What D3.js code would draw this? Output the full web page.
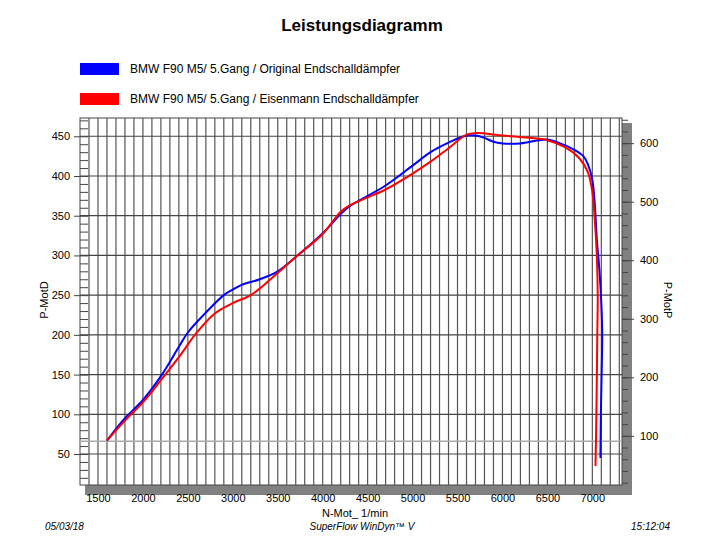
<!DOCTYPE html><html><head><meta charset="utf-8"><script src="https://cdn.jsdelivr.net/npm/d3@7"></script>
<style>body{margin:0;background:#fff}text{font-family:Arial,"Liberation Sans",sans-serif}</style></head><body><svg id="c" width="725" height="550"></svg>
<script>
const seriesNames=["BMW F90 M5/ 5.Gang / Original Endschalldämpfer","BMW F90 M5/ 5.Gang / Eisenmann Endschalldämpfer"];
const seriesColors=["#0000ff","#ff0000"];
const blueRpm=[1600,1800,2000,2200,2400,2500,2700,2900,3000,3100,3300,3500,3700,4000,4200,4300,4500,4700,5000,5200,5400,5600,5700,5800,5900,6000,6200,6400,6500,6600,6800,6900,6950,7000,7030,7050,7080,7100,7110,7105,7095,7090];
const blueVal=[67,95,118,148,185,203,228,250,257,263,270,280,298,328,352,362,375,388,413,430,442,451,451,448,443,441,441,445,446,443,433,425,415,395,360,320,280,240,200,160,100,45];
const redRpm=[1600,1800,2000,2200,2400,2600,2800,3000,3200,3400,3500,3700,4000,4200,4300,4500,4700,5000,5200,5400,5600,5700,6000,6300,6500,6700,6850,6950,7000,7030,7050,7060,7055,7045,7035];
const redVal=[67,92,115,143,172,203,227,240,250,268,278,298,327,355,363,373,383,403,418,435,452,454,451,448,445,436,423,405,380,340,300,250,200,100,35];
const xTicks=[1500,2000,2500,3000,3500,4000,4500,5000,5500,6000,6500,7000];
const yLeftTicks=[50,100,150,200,250,300,350,400,450];
const yRightTicks=[100,200,300,400,500,600];
const svg=d3.select("#c");
const L=80,R=622,T=118,B=485;
const x=d3.scaleLinear().domain([1300,7330]).range([L,R]);
const y=d3.scaleLinear().domain([11,473]).range([B,T]);
const y2=d3.scaleLinear().domain([16,643]).range([B,T]);
svg.append("text").attr("x",362).attr("y",31).attr("text-anchor","middle").attr("font-size",17).attr("font-weight","bold").text("Leistungsdiagramm");
seriesNames.forEach((n,i)=>{const yy=69+i*30;svg.append("rect").attr("x",80).attr("y",yy-6).attr("width",39).attr("height",12).attr("fill",seriesColors[i]);
svg.append("text").attr("x",130).attr("y",yy+4).attr("font-size",12).text(n);});
svg.append("rect").attr("x",L+5).attr("y",T+5).attr("width",R-L+5).attr("height",B-T+5).attr("fill","#808080");
svg.append("rect").attr("x",L).attr("y",T).attr("width",R-L).attr("height",B-T).attr("fill","#fff").attr("stroke","#444");
const g=svg.append("g");
d3.range(1400,7301,100).forEach(v=>g.append("line").attr("x1",x(v)).attr("x2",x(v)).attr("y1",T).attr("y2",B).attr("stroke","#555").attr("stroke-width",1.2));
yLeftTicks.forEach(v=>g.append("line").attr("x1",L).attr("x2",R).attr("y1",y(v)).attr("y2",y(v)).attr("stroke","#444").attr("stroke-width",1.2));
g.append("line").attr("x1",L).attr("x2",R).attr("y1",y(66)).attr("y2",y(66)).attr("stroke","#aaa").attr("stroke-width",1.5);
svg.append("g").attr("transform",`translate(${L},0)`).call(d3.axisLeft(y).tickValues(yLeftTicks).tickSize(6).tickPadding(4));
svg.append("g").attr("transform",`translate(${L+8},0)`).call(d3.axisLeft(y).tickValues(d3.range(20,471,10)).tickSize(8).tickFormat(""));
svg.append("g").attr("transform",`translate(${R},0)`).call(d3.axisRight(y2).tickValues(yRightTicks).tickSize(12).tickPadding(6));
svg.append("g").attr("transform",`translate(${R},0)`).call(d3.axisRight(y2).tickValues(d3.range(20,641,20)).tickSize(6).tickFormat(""));
svg.append("g").attr("transform",`translate(0,${B+4})`).call(d3.axisBottom(x).tickValues(xTicks).tickSize(0).tickPadding(5).tickFormat(d3.format("d")));
svg.selectAll(".domain").remove();
svg.selectAll(".tick text").attr("font-size",11).attr("fill","#000");
svg.selectAll(".tick line").attr("stroke","#444");
const line=d3.line().x(d=>x(d[0])).y(d=>y(d[1])).curve(d3.curveCatmullRom.alpha(0.5));
const pts=(a,b)=>a.map((r,i)=>[r,b[i]]);
svg.append("path").attr("d",line(pts(blueRpm,blueVal))).attr("fill","none").attr("stroke",seriesColors[0]).attr("stroke-width",2);
svg.append("path").attr("d",line(pts(redRpm,redVal))).attr("fill","none").attr("stroke",seriesColors[1]).attr("stroke-width",2);
svg.append("text").attr("transform","translate(48,300) rotate(-90)").attr("text-anchor","middle").attr("font-size",11).text("P-MotD");
svg.append("text").attr("transform","translate(664,300) rotate(90)").attr("text-anchor","middle").attr("font-size",11).text("P-MotP");
svg.append("text").attr("x",355).attr("y",517).attr("text-anchor","middle").attr("font-size",11).text("N-Mot_ 1/min");
svg.append("text").attr("x",45).attr("y",530).attr("font-size",10).attr("font-style","italic").text("05/03/18");
svg.append("text").attr("x",362).attr("y",530).attr("text-anchor","middle").attr("font-size",10).attr("font-style","italic").text("SuperFlow WinDyn™ V");
svg.append("text").attr("x",670).attr("y",530).attr("text-anchor","end").attr("font-size",10).attr("font-style","italic").text("15:12:04");
</script></body></html>
